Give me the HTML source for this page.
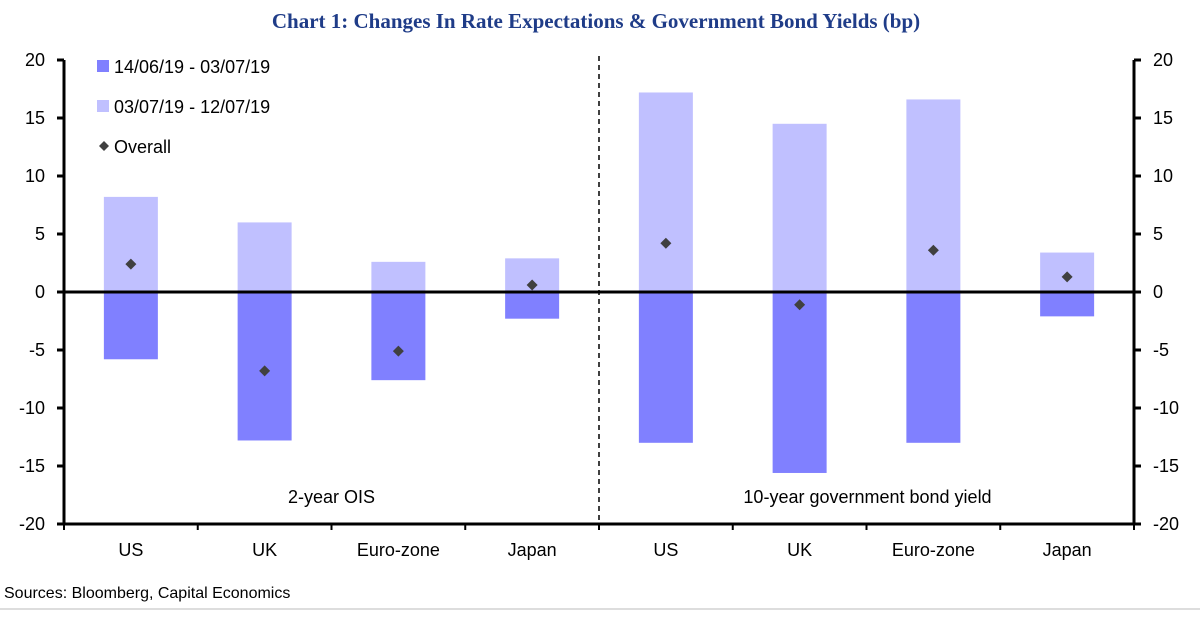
<!DOCTYPE html>
<html><head><meta charset="utf-8">
<style>
html,body{margin:0;padding:0;background:#fff;}
body{width:1200px;height:613px;overflow:hidden;font-family:"Liberation Sans",sans-serif;}
svg text{font-family:"Liberation Sans",sans-serif;}
</style></head>
<body>
<svg id="chart" width="1200" height="613" viewBox="0 0 1200 613" xmlns="http://www.w3.org/2000/svg">
<text x="596" y="28" text-anchor="middle" font-size="21" font-weight="bold" fill="#1f3c88" style="font-family:'Liberation Serif',serif">Chart 1: Changes In Rate Expectations &amp; Government Bond Yields (bp)</text>
<g id="plot"></g>
<text x="4" y="598" font-size="16" fill="#000">Sources: Bloomberg, Capital Economics</text>
<line x1="0" y1="609" x2="1200" y2="609" stroke="#bbb" stroke-width="1"/>
</svg>
<script>
const categories=["US","UK","Euro-zone","Japan","US","UK","Euro-zone","Japan"];
const period1=[-5.8,-12.8,-7.6,-2.3,-13.0,-15.6,-13.0,-2.1];
const period2=[8.2,6.0,2.6,2.9,17.2,14.5,16.6,3.4];
const overall=[2.4,-6.8,-5.1,0.6,4.2,-1.1,3.6,1.3];
const yTicks=[20,15,10,5,0,-5,-10,-15,-20];
const groupLabels=["2-year OIS","10-year government bond yield"];

const NS="http://www.w3.org/2000/svg";
const g=document.getElementById('plot');
const L=64,R=1134,T=60,B=524,yMin=-20,yMax=20;
const bw=(R-L)/categories.length;
function y(v){return T+(yMax-v)/(yMax-yMin)*(B-T);}
function x(i){return L+bw*(i+0.5);}
function mk(tag,attrs){const e=document.createElementNS(NS,tag);for(const k in attrs)e.setAttribute(k,attrs[k]);g.appendChild(e);return e;}

categories.forEach((c,i)=>{
  const w=54;
  const r1=mk('rect',{x:x(i)-w/2,y:y(0),width:w,height:y(period1[i])-y(0),fill:'#8080ff'});
  
  
  const r2=mk('rect',{x:x(i)-w/2,y:y(period2[i]),width:w,height:y(0)-y(period2[i]),fill:'#c0c0ff'});
  
  
});
overall.forEach((v,i)=>{
  const cx=x(i),cy=y(v),s=5.5;
  const d=mk('polygon',{points:`${cx},${cy-s} ${cx+s},${cy} ${cx},${cy+s} ${cx-s},${cy}`,fill:'#404040'});
  
  
});
let a=mk('line',{x1:L,y1:T,x2:L,y2:B,stroke:'#000','stroke-width':3});


a=mk('line',{x1:R,y1:T,x2:R,y2:B,stroke:'#000','stroke-width':3});


a=mk('line',{x1:L,y1:B,x2:R,y2:B,stroke:'#000','stroke-width':3});


a=mk('line',{x1:L,y1:y(0),x2:R,y2:y(0),stroke:'#000','stroke-width':3});


a=mk('line',{x1:(L+R)/2,y1:T-4,x2:(L+R)/2,y2:B,stroke:'#000','stroke-width':1.5,'stroke-dasharray':'5,4'});


yTicks.forEach(v=>{
  let t=mk('line',{x1:L-7,y1:y(v),x2:L,y2:y(v),stroke:'#000','stroke-width':3});
  
  
  t=mk('line',{x1:R,y1:y(v),x2:R+7,y2:y(v),stroke:'#000','stroke-width':3});
  
  
  let lb=mk('text',{x:45,y:y(v)+6,'text-anchor':'end','font-size':18});
  lb.textContent=v;
  
  
  lb=mk('text',{x:1153,y:y(v)+6,'font-size':18});
  lb.textContent=v;
  
  
});
for(let i=0;i<=categories.length;i++){
  const t=mk('line',{x1:L+bw*i,y1:B,x2:L+bw*i,y2:B+6,stroke:'#000','stroke-width':2});
  
  
}
categories.forEach((c,i)=>{
  const lb=mk('text',{x:x(i),y:556,'text-anchor':'middle','font-size':18});
  lb.textContent=c;
  
  
});
groupLabels.forEach((c,i)=>{
  const lb=mk('text',{x:L+(R-L)/4*(1+2*i)+(i?1:0),y:503,'text-anchor':'middle','font-size':18});
  lb.textContent=c;
  
  
});
const legItems=[["14/06/19 - 03/07/19","#8080ff","sq"],["03/07/19 - 12/07/19","#c0c0ff","sq"],["Overall","#404040","dia"]];
legItems.forEach((it,i)=>{
  const cy=66+i*40;
  let m;
  if(it[2]==="sq"){m=mk('rect',{x:97,y:cy-6,width:12,height:12,fill:it[1]});}
  else{m=mk('polygon',{points:`104,${cy-5} 109,${cy} 104,${cy+5} 99,${cy}`,fill:it[1]});}
  
  
  const t=mk('text',{x:114,y:cy+7,'font-size':18});
  t.textContent=it[0];
  
  
});
</script>
</body></html>
